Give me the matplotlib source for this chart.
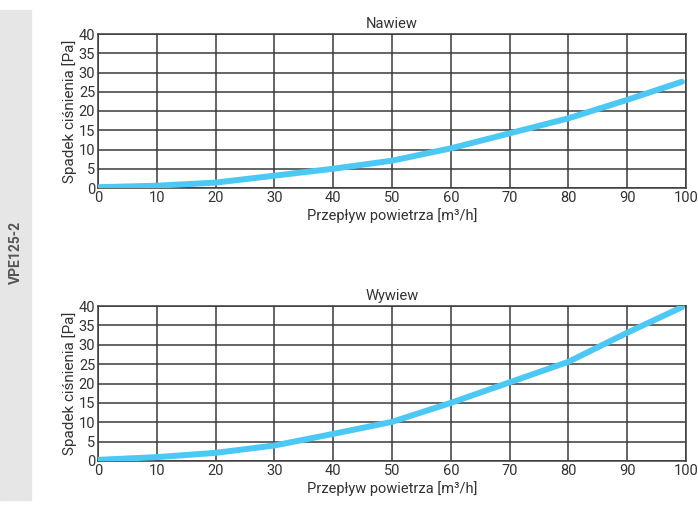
import numpy as np
import matplotlib.pyplot as plt
from matplotlib.patches import Rectangle

flow = [0, 10, 20, 30, 40, 50, 60, 70, 80, 90, 99.3]
nawiew = [0.2, 0.6, 1.4, 3.2, 5.0, 7.1, 10.3, 14.2, 18.1, 22.9, 27.6]
wywiew = [0.3, 1.0, 2.1, 4.0, 7.0, 10.1, 15.0, 20.3, 25.6, 33.1, 39.7]
titles = ["Nawiew", "Wywiew"]
model = "VPE125-2"

plt.rcParams['font.family'] = ['Roboto', 'DejaVu Sans']
line_col = '#4cc8f4'
grid_col = '#3a3a3a'
txt_col = '#333333'

fig = plt.figure(figsize=(6.98, 5.05), dpi=100)
fig.patches.append(Rectangle((0, 5/505), 31/698, 490/505, transform=fig.transFigure,
                             color='#e6e6e6', zorder=0))
fig.text(16/698, 0.5, model, rotation=90, ha='center', va='center',
         fontsize=10, fontweight='bold', color='#555555')

W, H = 698, 505
boxes = [(98, 34, 686, 188), (98, 306, 686, 461)]
for (x0, y0, x1, y1), title, vals in zip(boxes, titles, [nawiew, wywiew]):
    ax = fig.add_axes([x0/W, 1 - y1/H, (x1-x0)/W, (y1-y0)/H])
    ax.plot(flow, vals, color=line_col, lw=4.3, solid_capstyle='round', zorder=3)
    ax.set_xlim(0, 100)
    ax.set_ylim(0, 40)
    ax.set_xticks(np.arange(0, 101, 10))
    ax.set_yticks(np.arange(0, 41, 5))
    ax.grid(True, color=grid_col, lw=1.1)
    for s in ax.spines.values():
        s.set_color(grid_col)
        s.set_linewidth(1.1)
    ax.tick_params(length=0, pad=2, labelsize=10.5, colors=txt_col)
    ax.set_title(title, fontsize=10.5, color=txt_col, pad=4)
    ax.set_xlabel("Przepływ powietrza [m³/h]", fontsize=10.5, color=txt_col, labelpad=2)
    ax.set_ylabel("Spadek ciśnienia [Pa]", fontsize=11, color=txt_col, labelpad=1)

fig.savefig("out.png", dpi=100)
